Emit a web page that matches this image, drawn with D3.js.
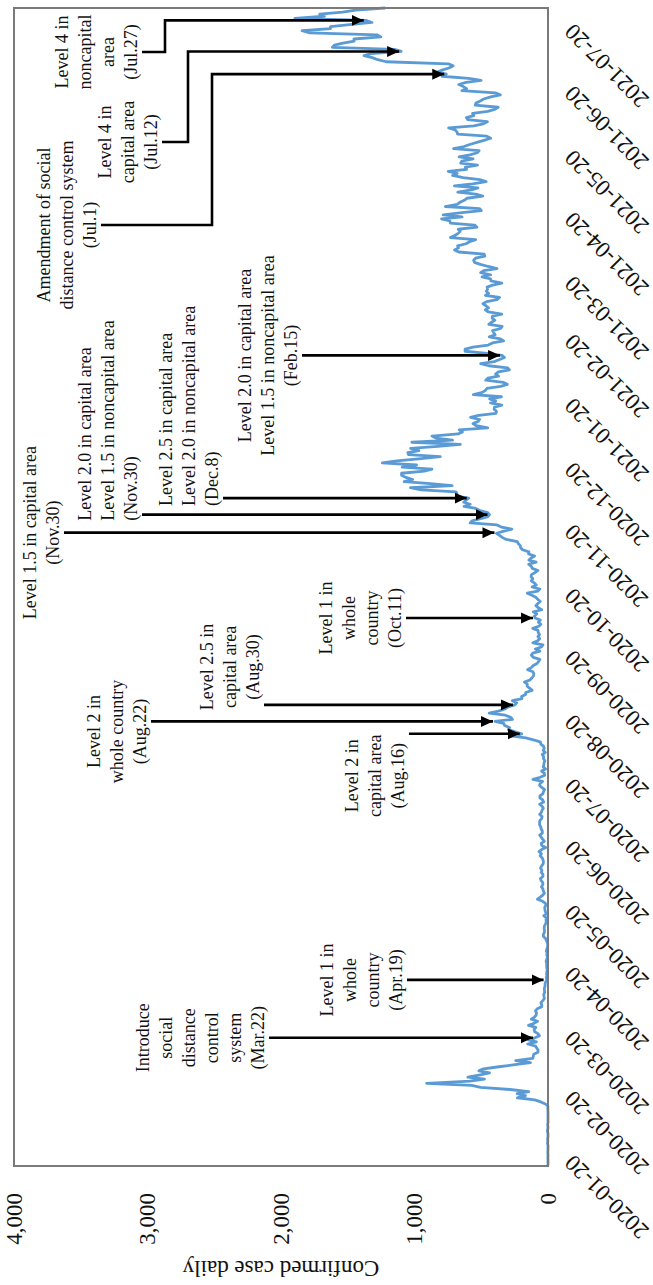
<!DOCTYPE html>
<html>
<head>
<meta charset="utf-8">
<script src="https://cdn.jsdelivr.net/npm/d3@7"></script>
<style>
  html, body { margin: 0; padding: 0; background: #fff; }
  svg { display: block; }
  text { font-family: "Liberation Serif", "Times New Roman", serif; fill: #111; }
</style>
</head>
<body>
<svg id="chart" width="653" height="1285"></svg>
<script>
// Daily confirmed cases, one value per day from the start date
const seriesStart = '2020-01-20';
const cases2020 = [
  // Jan 20-31
  1,0,0,0,1,0,1,1,0,0,0,4,
  // Feb
  1,3,0,0,1,5,1,0,3,0,0,0,0,0,0,1,1,1,20,53,100,229,169,231,144,284,505,571,909,
  // Mar
  586,476,600,516,438,518,483,367,248,131,242,114,110,107,76,74,84,93,152,87,147,98,64,76,100,104,91,146,105,78,125,
  // Apr
  101,89,86,94,81,47,47,53,39,27,30,32,25,27,27,22,22,18,8,13,9,11,8,6,10,10,10,14,9,4,
  // May
  9,6,13,8,3,2,4,12,18,34,35,27,26,29,27,19,13,15,13,32,12,20,23,25,16,19,40,79,58,39,27,
  // Jun
  35,38,49,39,39,51,57,38,38,50,45,56,49,37,34,37,43,59,49,67,48,17,46,51,28,39,51,62,42,43,
  // Jul
  51,54,63,63,61,48,44,62,50,45,35,44,62,33,39,61,60,39,34,26,45,63,59,41,113,58,25,28,48,18,36,
  // Aug
  31,30,23,34,33,43,20,36,28,34,54,56,103,166,279,197,246,297,288,324,332,397,266,280,320,441,371,323,299,248,235,
  // Sep
  267,195,198,168,167,119,136,156,155,176,136,121,109,106,113,153,126,110,82,70,61,110,125,114,61,95,50,38,113,77,
  // Oct
  63,75,64,73,75,114,69,54,72,58,97,102,84,110,47,73,91,76,58,76,91,121,155,77,61,119,88,103,125,114,127,
  // Nov
  124,97,75,118,125,145,89,143,126,100,146,143,191,205,208,223,230,313,343,363,386,330,271,349,382,583,569,504,450,438,
  // Dec
  451,511,540,629,583,631,615,594,686,682,689,950,1030,718,880,1078,1014,1064,1097,1097,926,869,1092,985,1241,1132,970,807,1045,1050,967
];
const cases2021 = [
  // Jan
  1029,824,657,1020,715,840,869,674,641,665,451,537,562,524,513,580,520,389,386,404,401,346,431,392,437,349,559,497,469,458,355,
  // Feb
  305,336,467,451,370,393,372,289,303,444,504,403,362,326,344,457,621,621,561,448,416,332,357,440,396,406,415,355,
  // Mar
  344,444,424,398,418,416,346,446,470,446,465,488,459,382,363,469,445,463,452,456,415,346,428,430,494,430,505,482,382,447,506,
  // Apr
  551,557,543,473,478,668,700,671,677,614,587,542,731,698,673,658,672,532,549,731,735,797,644,785,644,500,512,769,680,661,
  // May
  627,606,488,541,676,574,525,701,564,463,511,635,715,681,747,610,619,528,654,646,561,666,585,530,516,707,629,587,533,480,430,
  // Jun
  459,677,681,695,744,556,485,454,602,611,556,565,452,399,373,545,540,507,482,429,357,395,645,610,634,668,614,501,595,794,
  // Jul
  762,826,794,743,711,746,1212,1275,1316,1378,1324,1100,1150,1615,1600,1536,1452,1454,1252,1278,1784,1842,1630,1629,1487,1318,1365,1896,1674,1710,1539,
  // Aug 1-2
  1442,1219
];

// Axis ticks
const dateTicks = [
  '2020-01-20','2020-02-20','2020-03-20','2020-04-20','2020-05-20','2020-06-20',
  '2020-07-20','2020-08-20','2020-09-20','2020-10-20','2020-11-20','2020-12-20',
  '2021-01-20','2021-02-20','2021-03-20','2021-04-20','2021-05-20','2021-06-20','2021-07-20'
];
const valueTicks = [0, 1000, 2000, 3000, 4000];
const valueMax = 4000;

// Policy events: label lines and the date each one refers to
const eventText = [
  ['Introduce', 'social', 'distance', 'control', 'system', '(Mar.22)'],
  ['Level 1 in', 'whole', 'country', '(Apr.19)'],
  ['Level 2 in', 'capital area', '(Aug.16)'],
  ['Level 2 in', 'whole country', '(Aug.22)'],
  ['Level 2.5 in', 'capital area', '(Aug.30)'],
  ['Level 1 in', 'whole', 'country', '(Oct.11)'],
  ['Level 1.5 in capital area', '(Nov.30)'],
  ['Level 2.0 in capital area', 'Level 1.5 in noncapital area', '(Nov.30)'],
  ['Level 2.5 in capital area', 'Level 2.0 in noncapital area', '(Dec.8)'],
  ['Level 2.0 in capital area', 'Level 1.5 in noncapital area', '(Feb.15)'],
  ['Amendment of social', 'distance control system', '(Jul.1)'],
  ['Level 4 in', 'capital area', '(Jul.12)'],
  ['Level 4 in', 'noncapital', 'area', '(Jul.27)']
];
const eventDates = [
  '2020-03-22', '2020-04-19', '2020-08-16', '2020-08-22', '2020-08-30', '2020-10-11',
  '2020-11-30', '2020-11-30', '2020-12-08', '2021-02-15', '2021-07-01', '2021-07-12', '2021-07-27'
];

// Placement of each callout in the landscape frame (px):
// top = vertical position of first text line, dx = label offset along the time axis,
// nudge = sideways shift of an arrow that shares its date with another one,
// labelX / elbow = fixed label position and bend height for elbow connectors.
const eventLayout = [
  { top: 143, dx: 0,   anchor: 'middle' },
  { top: 327, dx: 0,   anchor: 'middle' },
  { top: 352, dx: -42, anchor: 'middle' },
  { top: 94,  dx: -10, anchor: 'middle' },
  { top: 207, dx: 38,  anchor: 'middle' },
  { top: 326, dx: 0,   anchor: 'middle' },
  { top: 30,  dx: 0,   anchor: 'middle', nudge: -18 },
  { top: 85,  dx: -6,  anchor: 'start' },
  { top: 166, dx: -8,  anchor: 'start' },
  { top: 245, dx: 0,   anchor: 'middle' },
  { top: 44,  labelX: 1060, elbow: 212, anchor: 'middle' },
  { top: 105, labelX: 1143, elbow: 188, anchor: 'middle' },
  { top: 62,  labelX: 1233, elbow: 165, anchor: 'middle' }
];

const parse = d3.timeParse('%Y-%m-%d');
const t0 = parse(seriesStart);
const series = cases2020.concat(cases2021).map((v, i) => ({ date: d3.timeDay.offset(t0, i), value: v }));

// The chart is laid out in a 1285 x 653 landscape frame and turned a quarter
// turn anticlockwise to fill the portrait page.
const W = 1285, H = 653;
const plot = { left: 119, right: 1277, top: 14, bottom: 548 };
const LINE_H = 23;

const svg = d3.select('#chart');
const g = svg.append('g').attr('transform', `translate(0,${W}) rotate(-90)`);

const x = d3.scaleTime()
  .domain([t0, series[series.length - 1].date])
  .range([plot.left, plot.right]);
const y = d3.scaleLinear().domain([0, valueMax]).range([plot.bottom, plot.top]);

// arrowhead
const defs = svg.append('defs');
defs.append('marker')
  .attr('id', 'head')
  .attr('markerUnits', 'userSpaceOnUse')
  .attr('viewBox', '0 0 12 12')
  .attr('refX', 12).attr('refY', 6)
  .attr('markerWidth', 12).attr('markerHeight', 12)
  .attr('orient', 'auto')
  .append('path').attr('d', 'M0,0.5 L12,6 L0,11.5 Z').attr('fill', '#000');

// value axis labels (left of the plot)
const yAxis = d3.axisLeft(y).tickValues(valueTicks).tickSize(0).tickPadding(27)
  .tickFormat(d3.format(','));
g.append('g').attr('transform', `translate(${plot.left},0)`).call(yAxis)
  .call(s => s.select('.domain').remove())
  .selectAll('text')
  .style('font-family', '"Liberation Serif", "Times New Roman", serif')
  .style('font-size', '23px').attr('fill', '#111');

// axis title
g.append('text')
  .attr('transform', `translate(17,${(plot.top + plot.bottom) / 2}) rotate(-90)`)
  .attr('text-anchor', 'middle')
  .attr('dominant-baseline', 'central')
  .style('font-size', '23px')
  .text('Confirmed case daily');

// date axis labels, slanted
const xAxis = d3.axisBottom(x).tickValues(dateTicks.map(parse)).tickSize(0).tickPadding(0)
  .tickFormat(d3.timeFormat('%Y-%m-%d'));
const xg = g.append('g').attr('transform', `translate(0,${plot.bottom})`).call(xAxis);
xg.select('.domain').remove();
xg.selectAll('text')
  .style('font-family', '"Liberation Serif", "Times New Roman", serif')
  .style('font-size', '23px').attr('fill', '#111')
  .attr('text-anchor', 'end')
  .attr('dy', null)
  .attr('y', 0)
  .attr('transform', 'translate(12,26) rotate(-45)');

// data line
const line = d3.line().x(d => x(d.date)).y(d => y(d.value));
g.append('path').datum(series)
  .attr('d', line)
  .attr('fill', 'none')
  .attr('stroke', '#5b9bd5')
  .attr('stroke-width', 2.8)
  .attr('stroke-linejoin', 'round');

// plot frame
g.append('rect')
  .attr('x', plot.left).attr('y', plot.top)
  .attr('width', plot.right - plot.left).attr('height', plot.bottom - plot.top)
  .attr('fill', 'none').attr('stroke', '#7a7a7a').attr('stroke-width', 2);

// value of the series at a given x position
function valueAt(px) {
  const d = x.invert(px);
  const i = Math.max(0, Math.min(series.length - 1, Math.round(d3.timeDay.count(t0, d))));
  return series[i].value;
}

// callouts
eventText.forEach((lines, k) => {
  const lay = eventLayout[k];
  const ax = x(parse(eventDates[k])) + (lay.nudge || 0);
  const tipY = y(valueAt(ax)) - 2;
  const startY = lay.top + (lines.length - 1) * LINE_H + 11;
  let labelX;
  let pathD;
  if (lay.elbow !== undefined) {
    labelX = lay.labelX;
    pathD = `M${labelX},${startY} V${lay.elbow} H${ax} V${tipY}`;
  } else {
    labelX = ax + lay.dx;
    pathD = `M${ax},${startY} V${tipY}`;
  }
  g.append('path')
    .attr('d', pathD)
    .attr('fill', 'none')
    .attr('stroke', '#000')
    .attr('stroke-width', 2.6)
    .attr('marker-end', 'url(#head)');
  const t = g.append('text')
    .attr('text-anchor', lay.anchor)
    .style('font-size', '18px');
  lines.forEach((ln, i) => {
    t.append('tspan')
      .attr('x', labelX)
      .attr('y', lay.top + i * LINE_H)
      .attr('dominant-baseline', 'central')
      .text(ln);
  });
});
</script>
</body>
</html>
